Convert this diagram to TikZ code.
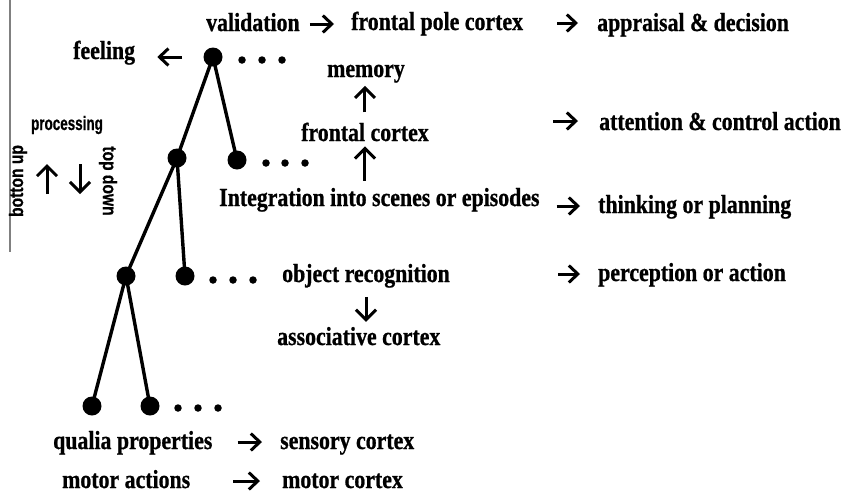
\documentclass[tikz,border=0pt]{standalone}
\usepackage{fontspec}
\usetikzlibrary{arrows.meta}
\newfontfamily\lblfont{Liberation Serif}[FakeStretch=0.84,FakeBold=0.8]
\newfontfamily\procfont{Liberation Sans}[FakeStretch=0.69,FakeBold=0.6]
\newfontfamily\sidefont{Liberation Sans}[FakeStretch=0.8,FakeBold=0.6]
\tikzset{
  lbl/.style={inner sep=0pt, anchor=base west, font=\lblfont\bfseries\fontsize{26}{26}\selectfont},
  side/.style={inner sep=0pt, font=\sidefont\bfseries\fontsize{19.5}{20}\selectfont},
  proc/.style={inner sep=0pt, anchor=base, font=\procfont\bfseries\fontsize{19.5}{20}\selectfont},
  dot/.style={circle, fill=black, inner sep=0pt, minimum size=19pt},
  pt/.style={circle, fill=black, inner sep=0pt, minimum size=7.5pt},
  branch/.style={line width=3.4pt},
  harrow/.style={line width=3pt, -{Straight Barb[length=9pt,width=17pt]}},
  varrow/.style={line width=3pt, -{Straight Barb[length=10pt,width=20pt]}},
}
\begin{document}
\begin{tikzpicture}[x=1pt,y=-1pt]
\useasboundingbox (0,0) rectangle (842,493);

% side scale: processing direction
\draw[gray, line width=1.5pt] (10,0) -- (10,252);
\node[proc] (proc) at (67,130) {processing};
\node[side, rotate=90] (bup) at (18,181) {botton up};
\node[side, rotate=-90] (tdn) at (108,181) {top down};
\coordinate (upA) at (47,194);
\coordinate (upB) at (47,164);
\coordinate (dnA) at (80,164);
\coordinate (dnB) at (80,194);
\draw[varrow] (upA) -- (upB);
\draw[varrow] (dnA) -- (dnB);

% hierarchy tree
\node[dot] (n1) at (213,57) {};
\node[dot] (n2l) at (177,158) {};
\node[dot] (n2r) at (237,160) {};
\node[dot] (n3l) at (126,276) {};
\node[dot] (n3r) at (185,276) {};
\node[dot] (n4l) at (92,406) {};
\node[dot] (n4r) at (150,406) {};
\draw[branch] (n1.center) -- (n2l.center);
\draw[branch] (n1.center) -- (n2r.center);
\draw[branch] (n2l.center) -- (n3l.center);
\draw[branch] (n2l.center) -- (n3r.center);
\draw[branch] (n3l.center) -- (n4l.center);
\draw[branch] (n3l.center) -- (n4r.center);

% continuation dots
\foreach \x [count=\i] in {242,262,282} \node[pt] (e1\i) at (\x,60) {};
\foreach \x [count=\i] in {266,285,305} \node[pt] (e2\i) at (\x,163) {};
\foreach \x [count=\i] in {213,233,253} \node[pt] (e3\i) at (\x,280) {};
\foreach \x [count=\i] in {178,198,218} \node[pt] (e4\i) at (\x,408) {};

% labels
\node[lbl] (valid) at (206,31) {validation};
\node[lbl] (fpole) at (351,30) {frontal pole cortex};
\node[lbl] (apprs) at (597,31) {appraisal \& decision};
\node[lbl] (feel) at (73,59) {feeling};
\node[lbl] (mem) at (327,77) {memory};
\node[lbl] (fcort) at (301,141) {frontal cortex};
\node[lbl] (attn) at (599,130) {attention \& control action};
\node[lbl] (integ) at (219,206) {Integration into scenes or episodes};
\node[lbl] (think) at (598,213) {thinking or planning};
\node[lbl] (objrec) at (282,282) {object recognition};
\node[lbl] (percep) at (598,281) {perception or action};
\node[lbl] (assoc) at (277,345) {associative cortex};
\node[lbl] (qualia) at (53,449) {qualia properties};
\node[lbl] (senso) at (280,449) {sensory cortex};
\node[lbl] (motact) at (62,488) {motor actions};
\node[lbl] (motcx) at (282,488) {motor cortex};

% arrows between labels
\draw[harrow, shorten <=10pt, shorten >=17pt] ([yshift=7pt]valid.base east) -- ([yshift=7pt]valid.base east -| fpole.west);
\draw[harrow, shorten <=34pt, shorten >=19pt] ([yshift=7pt]fpole.base east) -- ([yshift=7pt]fpole.base east -| apprs.west);
\draw[harrow, shorten <=31pt, shorten >=22pt] (n1.center) -- (n1.center -| feel.east);
\draw[varrow, shorten <=10pt, shorten >=3pt] (fcort.north) -- (fcort.north |- mem.south);
\draw[varrow, shorten <=7pt, shorten >=5pt] (fcort.south |- integ.north) -- (fcort.south);
\coordinate (attnFrom) at (553,121);
\draw[harrow, shorten >=21pt] (attnFrom) -- (attnFrom -| attn.west);
\draw[harrow, shorten <=17pt, shorten >=18pt] ([yshift=7pt]integ.base east |- think.base) -- ([yshift=7pt]think.base west);
\draw[harrow, shorten <=108pt, shorten >=18pt] ([yshift=7pt]objrec.base east |- percep.base) -- ([yshift=7pt]percep.base west);
\draw[varrow, shorten <=9pt, shorten >=5pt] (objrec.south) -- (objrec.south |- assoc.north);
\draw[harrow, shorten <=25pt, shorten >=18pt] ([yshift=7pt]qualia.base east) -- ([yshift=7pt]qualia.base east -| senso.west);
\draw[harrow, shorten <=43pt, shorten >=22pt] ([yshift=7pt]motact.base east) -- ([yshift=7pt]motact.base east -| motcx.west);
\end{tikzpicture}
\end{document}
